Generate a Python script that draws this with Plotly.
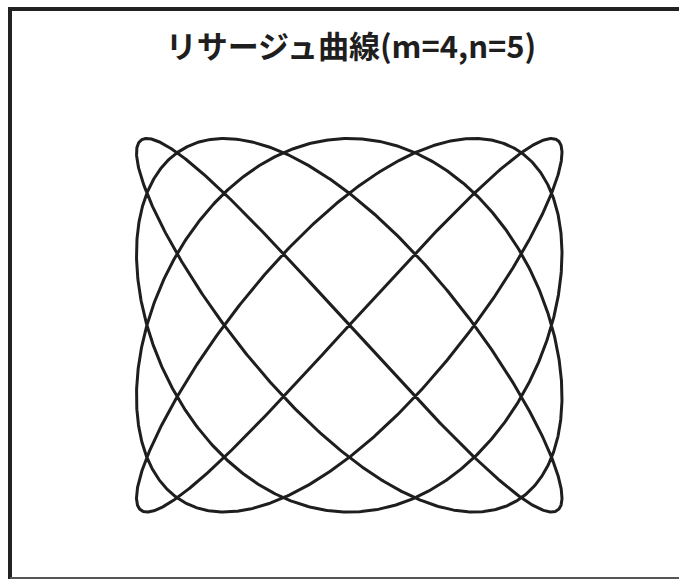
import numpy as np
import plotly.graph_objects as go

# Lissajous parameters (from title)
m = 4
n = 5
phase = 0.0
t = np.linspace(0, 2 * np.pi, 3000)
x_vals = np.sin(m * t + phase)
y_vals = np.sin(n * t)

W, H = 679, 579

def px(x):
    return x / W

def py(y):
    return 1 - y / H

pad = 1.03
xc, xh = 349.25, 212.75
yc, yh = 325.25, 186.75

fig = go.Figure()
fig.add_trace(go.Scatter(
    x=x_vals, y=y_vals, mode="lines",
    line=dict(color="#1e1e1e", width=3),
    hoverinfo="skip", showlegend=False,
))

fig.update_layout(
    width=W, height=H, autosize=False,
    margin=dict(l=0, r=0, t=0, b=0),
    paper_bgcolor="white", plot_bgcolor="white",
    title=dict(
        text="<b>リサージュ曲線(m=4,n=5)</b>",
        x=px(351), xanchor="center", xref="container",
        y=py(47), yanchor="middle", yref="container",
        font=dict(family="Noto Sans CJK JP", size=31, color="#1e1e1e"),
    ),
    xaxis=dict(domain=[px(xc - xh * pad), px(xc + xh * pad)], range=[-pad, pad],
               visible=False, showgrid=False, zeroline=False),
    yaxis=dict(domain=[py(yc + yh * pad), py(yc - yh * pad)], range=[-pad, pad],
               visible=False, showgrid=False, zeroline=False),
    shapes=[
        dict(type="line", xref="paper", yref="paper", x0=px(10), x1=px(10), y0=py(7), y1=py(579),
             line=dict(color="#222222", width=4)),
        dict(type="line", xref="paper", yref="paper", x0=px(8), x1=px(679), y0=py(9), y1=py(9),
             line=dict(color="#222222", width=4)),
        dict(type="line", xref="paper", yref="paper", x0=px(10), x1=px(679), y0=py(578), y1=py(578),
             line=dict(color="#555555", width=2)),
    ],
)

fig.write_html(
    "out.html",
    config={"displayModeBar": False, "staticPlot": True},
    post_script="document.body.style.margin='0';document.body.style.overflow='hidden';",
)
